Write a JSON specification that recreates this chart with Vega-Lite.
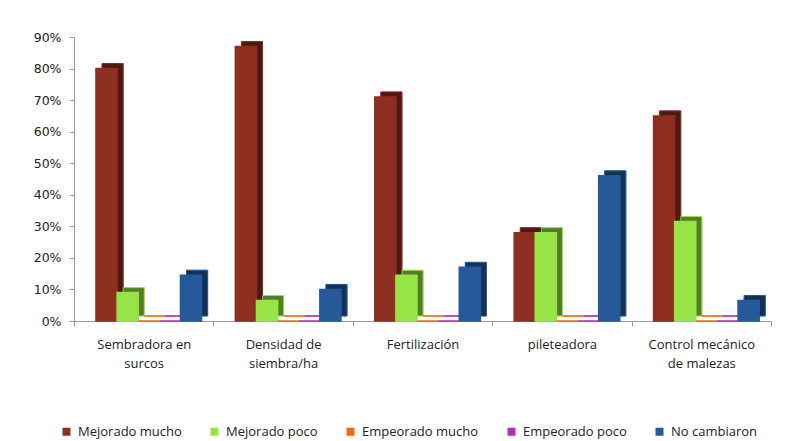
{
  "$schema": "https://vega.github.io/schema/vega-lite/v6.json",
  "width": 697,
  "height": 284,
  "autosize": {"type": "none"},
  "padding": {"left": 74, "top": 37, "right": 29, "bottom": 120},
  "background": "white",
  "config": {"view": {"stroke": null}, "font": "Open Sans"},
  "data": {
    "values": [
      {"categoria": "Sembradora en surcos", "serie": "Mejorado mucho", "valor": 0.80},
      {"categoria": "Sembradora en surcos", "serie": "Mejorado poco", "valor": 0.09},
      {"categoria": "Sembradora en surcos", "serie": "Empeorado mucho", "valor": 0},
      {"categoria": "Sembradora en surcos", "serie": "Empeorado poco", "valor": 0},
      {"categoria": "Sembradora en surcos", "serie": "No cambiaron", "valor": 0.145},
      {"categoria": "Densidad de siembra/ha", "serie": "Mejorado mucho", "valor": 0.87},
      {"categoria": "Densidad de siembra/ha", "serie": "Mejorado poco", "valor": 0.065},
      {"categoria": "Densidad de siembra/ha", "serie": "Empeorado mucho", "valor": 0},
      {"categoria": "Densidad de siembra/ha", "serie": "Empeorado poco", "valor": 0},
      {"categoria": "Densidad de siembra/ha", "serie": "No cambiaron", "valor": 0.10},
      {"categoria": "Fertilización", "serie": "Mejorado mucho", "valor": 0.71},
      {"categoria": "Fertilización", "serie": "Mejorado poco", "valor": 0.145},
      {"categoria": "Fertilización", "serie": "Empeorado mucho", "valor": 0},
      {"categoria": "Fertilización", "serie": "Empeorado poco", "valor": 0},
      {"categoria": "Fertilización", "serie": "No cambiaron", "valor": 0.17},
      {"categoria": "pileteadora", "serie": "Mejorado mucho", "valor": 0.28},
      {"categoria": "pileteadora", "serie": "Mejorado poco", "valor": 0.28},
      {"categoria": "pileteadora", "serie": "Empeorado mucho", "valor": 0},
      {"categoria": "pileteadora", "serie": "Empeorado poco", "valor": 0},
      {"categoria": "pileteadora", "serie": "No cambiaron", "valor": 0.46},
      {"categoria": "Control mecánico de malezas", "serie": "Mejorado mucho", "valor": 0.65},
      {"categoria": "Control mecánico de malezas", "serie": "Mejorado poco", "valor": 0.315},
      {"categoria": "Control mecánico de malezas", "serie": "Empeorado mucho", "valor": 0},
      {"categoria": "Control mecánico de malezas", "serie": "Empeorado poco", "valor": 0},
      {"categoria": "Control mecánico de malezas", "serie": "No cambiaron", "valor": 0.065}
    ]
  },
  "encoding": {
    "x": {
      "field": "categoria",
      "type": "nominal",
      "sort": ["Sembradora en surcos", "Densidad de siembra/ha", "Fertilización", "pileteadora", "Control mecánico de malezas"],
      "scale": {"paddingInner": 0, "paddingOuter": 0},
      "axis": {
        "title": null,
        "labelAngle": 0,
        "tickBand": "extent",
        "tickSize": 5,
        "tickColor": "#999",
        "domainColor": "#999",
        "labelPadding": 12,
        "labelFontSize": 13,
        "labelColor": "#222",
        "labelLineHeight": 19,
        "labelBaseline": "top",
        "labelExpr": "datum.value == 'Sembradora en surcos' ? ['Sembradora en', 'surcos'] : datum.value == 'Densidad de siembra/ha' ? ['Densidad de', 'siembra/ha'] : datum.value == 'Control mecánico de malezas' ? ['Control mecánico', 'de malezas'] : datum.value"
      }
    },
    "y": {
      "field": "valor",
      "type": "quantitative",
      "scale": {"domain": [0, 0.9], "nice": false},
      "axis": {
        "title": null,
        "grid": false,
        "values": [0, 0.1, 0.2, 0.3, 0.4, 0.5, 0.6, 0.7, 0.8, 0.9],
        "format": ".0%",
        "tickSize": 5,
        "tickColor": "#999",
        "domainColor": "#999",
        "labelPadding": 8,
        "labelFont": "DejaVu Sans",
        "labelFontSize": 12.5,
        "labelColor": "#222"
      }
    },
    "color": {
      "field": "serie",
      "type": "nominal",
      "sort": ["Mejorado mucho", "Mejorado poco", "Empeorado mucho", "Empeorado poco", "No cambiaron"],
      "scale": {
        "domain": ["Mejorado mucho", "Mejorado poco", "Empeorado mucho", "Empeorado poco", "No cambiaron"],
        "range": ["#8E2F22", "#97E446", "#F26B0F", "#B42DB4", "#25599A"]
      },
      "legend": {
        "title": null,
        "orient": "none",
        "direction": "horizontal",
        "legendX": -14,
        "legendY": 388,
        "symbolType": "square",
        "symbolSize": 64,
        "symbolStrokeWidth": 0,
        "symbolOpacity": 1,
        "labelFontSize": 13,
        "labelColor": "#222",
        "columnPadding": 26,
        "labelOffset": 5
      }
    },
    "stroke": {
      "field": "serie",
      "type": "nominal",
      "scale": {
        "domain": ["Mejorado mucho", "Mejorado poco", "Empeorado mucho", "Empeorado poco", "No cambiaron"],
        "range": ["#8E2F22", "#97E446", "#F26B0F", "#B42DB4", "#25599A"]
      },
      "legend": null
    }
  },
  "resolve": {"scale": {"xOffset": "independent"}},
  "layer": [
    {
      "layer": [
        {"mark": {"type": "bar", "yOffset": -5, "y2Offset": -5, "strokeWidth": 1}},
        {"mark": {"type": "bar", "yOffset": -5, "y2Offset": -5, "fill": "#000", "stroke": "#000", "strokeWidth": 1, "opacity": 0.45}}
      ],
      "encoding": {
        "xOffset": {
          "field": "serie",
          "type": "nominal",
          "sort": ["Mejorado mucho", "Mejorado poco", "Empeorado mucho", "Empeorado poco", "No cambiaron"],
          "scale": {"paddingInner": 0, "paddingOuter": 0.8, "align": 0.83}
        }
      }
    },
    {
      "mark": {"type": "bar", "strokeWidth": 1.5},
      "encoding": {
        "xOffset": {
          "field": "serie",
          "type": "nominal",
          "sort": ["Mejorado mucho", "Mejorado poco", "Empeorado mucho", "Empeorado poco", "No cambiaron"],
          "scale": {"paddingInner": 0, "paddingOuter": 0.8, "align": 0.65}
        }
      }
    }
  ]
}
